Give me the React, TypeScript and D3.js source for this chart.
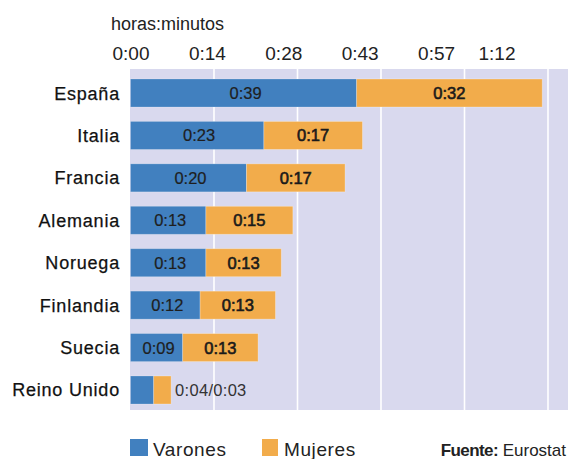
import React from 'react';
import * as d3 from 'd3';

const countries = ['España', 'Italia', 'Francia', 'Alemania', 'Noruega', 'Finlandia', 'Suecia', 'Reino Unido'];
const varones = [39, 23, 20, 13, 13, 12, 9, 4];
const mujeres = [32, 17, 17, 15, 13, 13, 13, 3];
const tickValues = [0, 14.4, 28.8, 43.2, 57.6, 72];
const tickLabels = ['0:00', '0:14', '0:28', '0:43', '0:57', '1:12'];
const seriesNames = ['Varones', 'Mujeres'];

const W = 568;
const H = 459;
const BLUE = '#4180bf';
const ORANGE = '#f2ac4b';
const BG = '#d9d9ee';
const FONT = '"Liberation Sans", Arial, Helvetica, sans-serif';

const fmt = (m: number) => `${Math.floor(m / 60)}:${String(m % 60).padStart(2, '0')}`;

export default function App() {
  const x = d3.scaleLinear().domain([0, 72]).range([130.5, 548]);
  const labelX = d3.scaleLinear().domain([0, 72]).range([131, 513]);
  const y = d3.scaleBand<string>().domain(countries).range([79, 404]).paddingInner(0.34).paddingOuter(0);
  const bh = y.bandwidth();

  return (
    <svg width={W} height={H} style={{ position: 'absolute', left: 0, top: 0, fontFamily: FONT }}>
      <rect x={0} y={0} width={W} height={H} fill="#fff" />
      {/* plot background */}
      <rect x={x(0) - 0.5} y={69} width={W - x(0) + 0.5} height={341} fill={BG} />
      {tickValues.slice(1).map((t, i) => (
        <line key={i} x1={x(t)} x2={x(t)} y1={69} y2={410} stroke="#fff" strokeWidth={1.6} />
      ))}
      {/* title & tick labels */}
      <text x={111} y={30} fontSize={18} fill="#222">horas:minutos</text>
      {tickValues.map((t, i) => (
        <text key={i} x={Math.min(labelX(t), 497)} y={60} fontSize={19} fill="#222" textAnchor="middle">
          {tickLabels[i]}
        </text>
      ))}
      {/* bars */}
      {countries.map((c, i) => {
        const y0 = y(c) as number;
        const v = varones[i];
        const m = mujeres[i];
        const cy = y0 + bh / 2;
        const small = v + m < 10;
        return (
          <g key={c}>
            <text x={120} y={cy + 6.5} fontSize={18} letterSpacing={0.8} textAnchor="end" fill="#111" stroke="#111" strokeWidth={0.25}>{c}</text>
            <rect x={x(0)} y={y0} width={x(v) - x(0)} height={bh} fill={BLUE} stroke="#ffffff" strokeOpacity={0.25} strokeWidth={0.8} />
            <rect x={x(v)} y={y0} width={x(v + m) - x(v)} height={bh} fill={ORANGE} stroke="#ffffff" strokeOpacity={0.35} strokeWidth={0.8} />
            {small ? (
              <text x={x(v + m) + 4} y={cy + 6} fontSize={16.5} letterSpacing={0.3} fill="#333">{`${fmt(v)}/${fmt(m)}`}</text>
            ) : (
              <>
                <text x={(x(0) + x(v)) / 2 + 2} y={cy + 6} fontSize={16.5} textAnchor="middle" fill="#1e1e1e" stroke="#1e1e1e" strokeWidth={0.2}>{fmt(v)}</text>
                <text x={(x(v) + x(v + m)) / 2} y={cy + 6} fontSize={16.5} textAnchor="middle" fill="#1a1a1a" stroke="#1a1a1a" strokeWidth={0.6}>{fmt(m)}</text>
              </>
            )}
          </g>
        );
      })}
      {/* legend */}
      <rect x={130} y={439} width={18} height={17} fill={BLUE} />
      <text x={153} y={455.5} fontSize={19} letterSpacing={0.6} fill="#222">{seriesNames[0]}</text>
      <rect x={262} y={439} width={16} height={17} fill={ORANGE} />
      <text x={284} y={455.5} fontSize={19} letterSpacing={0.6} fill="#222">{seriesNames[1]}</text>
      <text x={566} y={456} fontSize={17} textAnchor="end" fill="#222">
        <tspan fontWeight="bold" letterSpacing={-0.6}>Fuente:</tspan>
        <tspan> Eurostat</tspan>
      </text>
    </svg>
  );
}
